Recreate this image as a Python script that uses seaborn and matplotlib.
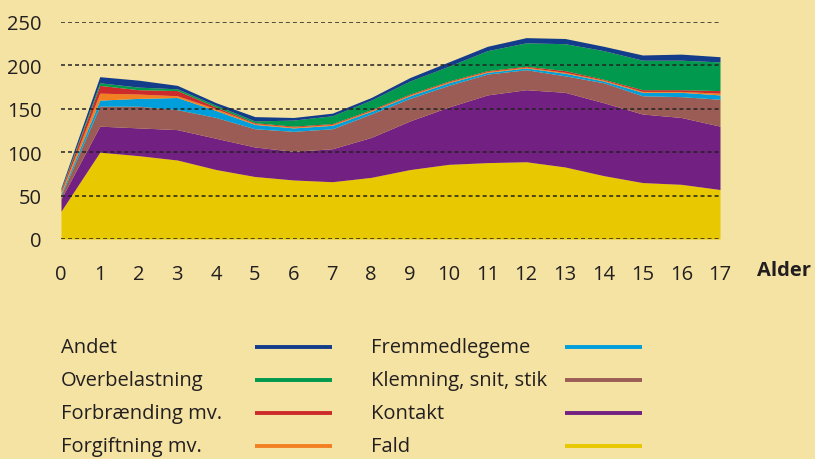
import numpy as np
import matplotlib
matplotlib.use("Agg")
import matplotlib.pyplot as plt
import seaborn as sns
from matplotlib.lines import Line2D

# Data: injuries by age, stacked by cause
ages = list(range(18))
fald = [32, 100, 96, 91, 80, 72, 68, 66, 71, 80, 86, 88, 89, 83, 73, 65, 63, 57]
kontakt = [14, 30, 32, 35, 36, 34, 33, 38, 46, 56, 66, 78, 83, 86, 84, 79, 77, 73]
klemning = [4, 23, 25, 23, 24, 21, 23, 23, 27, 26, 25, 24, 23, 19, 23, 21, 24, 31]
fremmed = [2, 7, 9, 14, 8, 5, 4, 4, 3, 3, 3, 2, 2, 3, 2, 4, 5, 5]
forgift = [2, 8, 5, 2, 2, 1, 1, 1, 1, 1, 1, 1, 1, 1, 1, 1, 1, 2]
forbr = [2, 9, 5, 6, 2, 1, 1, 1, 1, 1, 1, 1, 1, 2, 1, 2, 2, 3]
overbel = [1, 3, 3, 2, 2, 2, 7, 9, 11, 15, 17, 23, 27, 31, 33, 34, 34, 33]
andet = [2, 7, 8, 4, 3, 5, 3, 3, 3, 4, 5, 5, 6, 6, 5, 6, 7, 6]

labels = ["Fald", "Kontakt", "Klemning, snit, stik", "Fremmedlegeme",
          "Forgiftning mv.", "Forbrænding mv.", "Overbelastning", "Andet"]
colors = ["#E8C800", "#722082", "#9A5C55", "#009FDC",
          "#F28022", "#CD2B2B", "#00994D", "#133C8B"]

bg = "#F4E3A3"
txt = "#231F20"

sns.set_theme(style="white")
plt.rcParams["font.family"] = ["Open Sans", "DejaVu Sans"]

fig = plt.figure(figsize=(8.15, 4.6), dpi=100, facecolor=bg)
ax = fig.add_axes([61 / 815, 1 - 240 / 460, 659 / 815, 217 / 460])
ax.set_facecolor(bg)

ax.stackplot(ages, fald, kontakt, klemning, fremmed, forgift, forbr, overbel, andet,
             colors=colors, linewidth=0)

ax.set_xlim(0, 17)
ax.set_ylim(0, 250)
ax.set_xticks(ages)
ax.set_yticks(range(0, 251, 50))
ax.tick_params(axis="both", length=0, labelsize=14.5, colors=txt)
ax.tick_params(axis="y", pad=14)
ax.tick_params(axis="x", pad=18)

ax.set_axisbelow(False)
ax.yaxis.grid(True, color="#222222", linestyle=(0, (2.6, 2.0)), linewidth=1.1)
ax.xaxis.grid(False)
for s in ax.spines.values():
    s.set_visible(False)

fig.text(757 / 815, 1 - 271 / 460, "Alder", fontsize=14.5, fontweight="bold",
         color=txt, va="center", ha="left")

# Legend: text on the left, line on the right, two columns
col1 = ["Andet", "Overbelastning", "Forbrænding mv.", "Forgiftning mv."]
col2 = ["Fremmedlegeme", "Klemning, snit, stik", "Kontakt", "Fald"]
cmap = dict(zip(labels, colors))
rows_y = [348, 381, 414, 447]
for names, tx, lx0, lx1 in [(col1, 61, 255, 332), (col2, 371, 565, 642)]:
    for name, y in zip(names, rows_y):
        fy = 1 - y / 460
        fig.text(tx / 815, fy, name, fontsize=14.5, color=txt, va="center", ha="left")
        fig.add_artist(Line2D([lx0 / 815, lx1 / 815], [fy, fy], color=cmap[name],
                              linewidth=2.8, solid_capstyle="butt",
                              transform=fig.transFigure))

fig.savefig("out.png", dpi=100, facecolor=bg)
